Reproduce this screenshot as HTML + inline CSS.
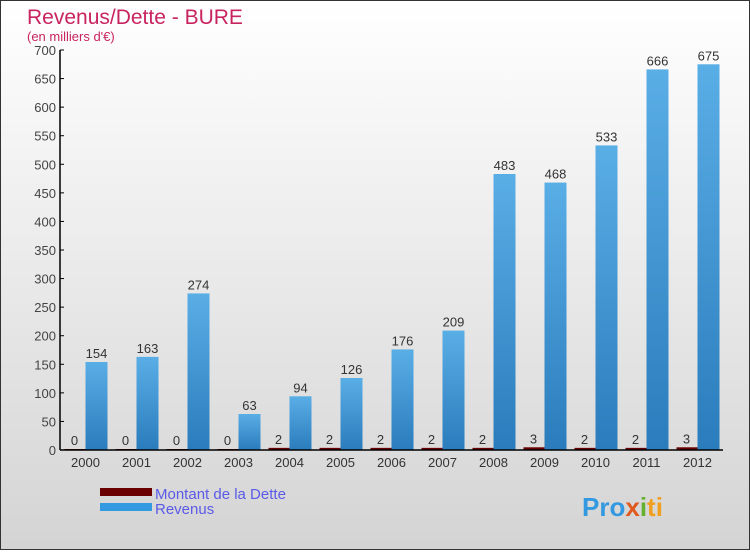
<!DOCTYPE html>
<html><head><meta charset="utf-8"><style>
body{margin:0}
#c{width:750px;height:550px;position:relative;font-family:"Liberation Sans",sans-serif;}
</style></head><body>
<div id="c">
<svg id="s" width="750" height="550" xmlns="http://www.w3.org/2000/svg">
<defs>
<linearGradient id="bg" x1="0" y1="0" x2="0" y2="1"><stop offset="0" stop-color="#ffffff"/><stop offset="1" stop-color="#d4d4d4"/></linearGradient>
<linearGradient id="bar" x1="0" y1="0" x2="1" y2="0"><stop offset="0" stop-color="#5aaee6"/><stop offset="1" stop-color="#2a7fbf"/></linearGradient>
<linearGradient id="bar2" x1="0" y1="0" x2="0" y2="1"><stop offset="0" stop-color="#5aaee6"/><stop offset="1" stop-color="#2a7cbc"/></linearGradient>
</defs>
<rect x="0.5" y="0.5" width="749" height="549" fill="url(#bg)" stroke="#333"/>
<text x="27" y="24" font-size="21" fill="#c8245f">Revenus/Dette - BURE</text>
<text x="27" y="41" font-size="13" fill="#c8245f">(en milliers d'€)</text>
<g id="plot"></g>
<rect x="100" y="488" width="52" height="8" fill="#6a0000"/>
<text x="155" y="499" font-size="15" fill="#5a5ae8">Montant de la Dette</text>
<rect x="100" y="503" width="52" height="8" fill="#3399e0"/>
<text x="155" y="514" font-size="15" fill="#5a5ae8">Revenus</text>
<text x="582" y="516" font-size="26" font-weight="bold"><tspan fill="#3399e0">Pro</tspan><tspan fill="#e05a20">x</tspan><tspan fill="#66b030">i</tspan><tspan fill="#f0a020">ti</tspan></text>
</svg>
</div>
<script>
const years=["2000","2001","2002","2003","2004","2005","2006","2007","2008","2009","2010","2011","2012"];
const revenus=[154,163,274,63,94,126,176,209,483,468,533,666,675];
const dette=[0,0,0,0,2,2,2,2,2,3,2,2,3];
const yTicks=[0,50,100,150,200,250,300,350,400,450,500,550,600,650,700];
const NS="http://www.w3.org/2000/svg";
const g=document.getElementById('plot');
const x0=60,x1=723,y0=450,y1=50,ymax=700;
const step=(x1-x0)/years.length;
const Y=v=>y0-(v/ymax)*(y0-y1);
function mk(t,a,txt){const e=document.createElementNS(NS,t);for(const k in a)e.setAttribute(k,a[k]);if(txt!==undefined)e.textContent=txt;g.appendChild(e);return e;}
yTicks.forEach(v=>{
 const l=mk('line',{x1:x0,x2:x0+4,y1:Y(v),y2:Y(v),stroke:'#000'});
 
 
 const t=mk('text',{x:x0-4,y:Y(v)+5,'text-anchor':'end','font-size':13,fill:'#444'},v);
 
 
});
years.forEach((yr,i)=>{
 const cx=x0+step*(i+0.5);
 const db=mk('rect',{x:cx-21,y:Y(dette[i])-1,width:21,height:y0-Y(dette[i])+1,fill:'#6a0000'});
 
 
 const dl=mk('text',{x:cx-11,y:Y(dette[i])-5,'text-anchor':'middle','font-size':13,fill:'#333'},dette[i]);
 
 
 const rb=mk('rect',{x:cx,y:Y(revenus[i]),width:22,height:y0-Y(revenus[i]),fill:'url(#bar2)'});
 
 
 const rl=mk('text',{x:cx+11,y:Y(revenus[i])-4,'text-anchor':'middle','font-size':13,fill:'#333'},revenus[i]);
 
 
 const xl=mk('text',{x:cx,y:y0+17,'text-anchor':'middle','font-size':13,fill:'#333'},yr);
 
 
});
const ya=mk('line',{x1:x0,x2:x0,y1:y1,y2:y0,stroke:'#000','stroke-width':1.5});


const xa=mk('line',{x1:x0,x2:x1,y1:y0,y2:y0,stroke:'#000','stroke-width':1.5});


</script>
</body></html>
